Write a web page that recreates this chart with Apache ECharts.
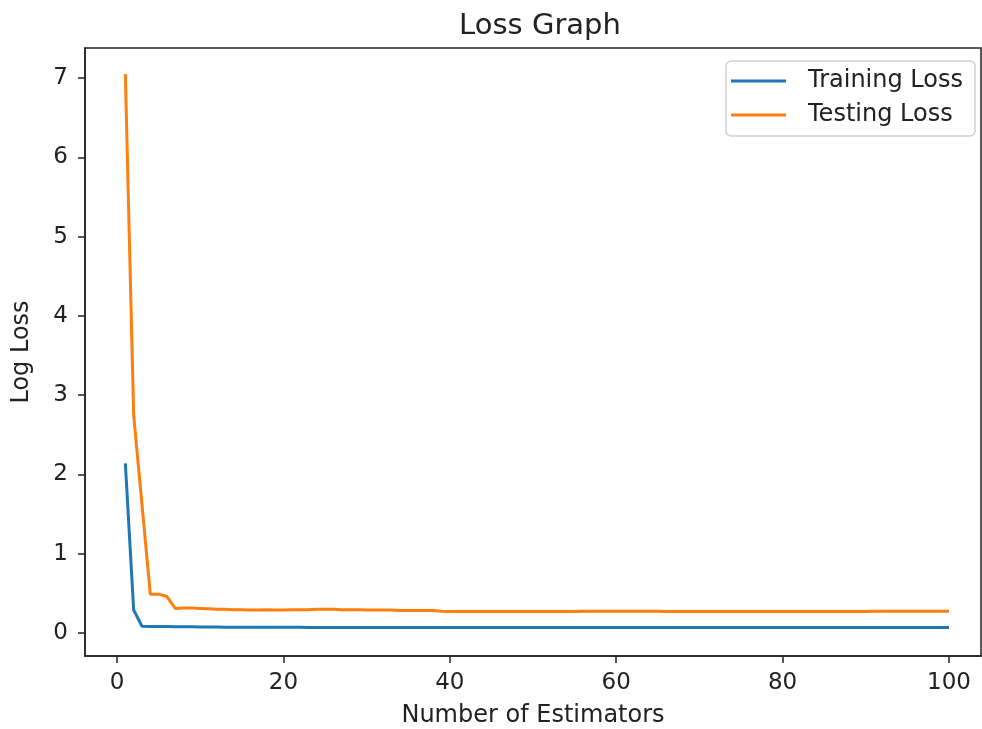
<!DOCTYPE html>
<html>
<head>
<meta charset="utf-8">
<title>Loss Graph</title>
<script src="https://cdn.jsdelivr.net/npm/echarts@6/dist/echarts.min.js"></script>
<style>
  html, body { margin: 0; padding: 0; background: #fff; }
  #chart { width: 982px; height: 729px; }
</style>
</head>
<body>
<div id="chart"></div>
<script>
// number of estimators (x)
var estimators = [
  1, 2, 3, 4, 5, 6, 7, 8, 9, 10, 11, 12, 13, 14, 15, 16, 17, 18, 19, 20,
  21, 22, 23, 24, 25, 26, 27, 28, 29, 30, 31, 32, 33, 34, 35, 36, 37, 38, 39, 40,
  41, 42, 43, 44, 45, 46, 47, 48, 49, 50, 51, 52, 53, 54, 55, 56, 57, 58, 59, 60,
  61, 62, 63, 64, 65, 66, 67, 68, 69, 70, 71, 72, 73, 74, 75, 76, 77, 78, 79, 80,
  81, 82, 83, 84, 85, 86, 87, 88, 89, 90, 91, 92, 93, 94, 95, 96, 97, 98, 99, 100
];

// training loss
var trainLoss = [
  2.14, 0.29, 0.085, 0.083, 0.082, 0.081, 0.080, 0.079, 0.078, 0.077,
  0.076, 0.075, 0.074, 0.073, 0.073, 0.073, 0.072, 0.072, 0.072, 0.072,
  0.072, 0.072, 0.071, 0.071, 0.071, 0.071, 0.071, 0.071, 0.071, 0.071,
  0.070, 0.070, 0.070, 0.070, 0.070, 0.070, 0.070, 0.070, 0.070, 0.070,
  0.070, 0.070, 0.070, 0.070, 0.070, 0.070, 0.070, 0.070, 0.070, 0.070,
  0.070, 0.070, 0.070, 0.070, 0.070, 0.070, 0.070, 0.070, 0.070, 0.070,
  0.070, 0.069, 0.069, 0.069, 0.069, 0.069, 0.069, 0.069, 0.069, 0.069,
  0.069, 0.069, 0.069, 0.069, 0.069, 0.069, 0.069, 0.069, 0.069, 0.069,
  0.069, 0.069, 0.069, 0.068, 0.068, 0.068, 0.068, 0.068, 0.068, 0.068,
  0.068, 0.068, 0.068, 0.068, 0.068, 0.068, 0.068, 0.068, 0.068, 0.068
];

// testing loss
var testLoss = [
  7.05, 2.75, 1.62, 0.49, 0.49, 0.46, 0.31, 0.315, 0.315, 0.31,
  0.305, 0.30, 0.30, 0.295, 0.295, 0.29, 0.29, 0.295, 0.29, 0.29,
  0.295, 0.295, 0.295, 0.30, 0.30, 0.30, 0.295, 0.295, 0.295, 0.29,
  0.29, 0.29, 0.29, 0.285, 0.285, 0.285, 0.285, 0.285, 0.275, 0.27,
  0.27, 0.27, 0.27, 0.27, 0.27, 0.27, 0.27, 0.27, 0.27, 0.27,
  0.27, 0.272, 0.272, 0.272, 0.272, 0.275, 0.275, 0.275, 0.275, 0.275,
  0.275, 0.275, 0.275, 0.275, 0.275, 0.272, 0.272, 0.272, 0.272, 0.272,
  0.272, 0.272, 0.272, 0.272, 0.272, 0.272, 0.272, 0.272, 0.272, 0.272,
  0.272, 0.272, 0.272, 0.272, 0.272, 0.272, 0.272, 0.272, 0.272, 0.272,
  0.275, 0.275, 0.275, 0.275, 0.275, 0.275, 0.275, 0.275, 0.275, 0.275
];

var xTicks = [0, 20, 40, 60, 80, 100];
var yTicks = [0, 1, 2, 3, 4, 5, 6, 7];

function pairs(xs, ys) {
  return xs.map(function (x, i) { return [x, ys[i]]; });
}

var font = "DejaVu Sans";
var chart = echarts.init(document.getElementById("chart"));

var option = {
  backgroundColor: "#fff",
  animation: false,
  textStyle: { fontFamily: font },
  title: {
    text: "Loss Graph",
    left: 535,
    textAlign: "center",
    top: 7,
    textStyle: { fontFamily: font, fontSize: 29, fontWeight: "normal", color: "#222" }
  },
  legend: {
    orient: "vertical",
    right: 7,
    top: 61,
    padding: [7, 12, 8, 5],
    itemGap: 8,
    itemWidth: 55,
    itemHeight: 3,
    icon: "rect",
    borderColor: "#d0d0d0",
    borderWidth: 1.5,
    borderRadius: 5,
    textStyle: { fontFamily: font, fontSize: 24, lineHeight: 26, color: "#222", padding: [0, 0, 0, 17] },
    data: ["Training Loss", "Testing Loss"]
  },
  grid: {
    left: 85,
    top: 48,
    right: 1,
    bottom: 73,
    outerBoundsMode: "none",
    containLabel: false,
    show: true,
    borderColor: "#222",
    borderWidth: 1.5
  },
  xAxis: {
    type: "value",
    min: -3.85,
    max: 103.85,
    name: "Number of Estimators",
    nameLocation: "middle",
    nameGap: 48,
    nameTextStyle: { fontFamily: font, fontSize: 24, color: "#222" },
    splitLine: { show: false },
    axisLine: { show: true, onZero: false, lineStyle: { color: "#222", width: 1.5 } },
    axisTick: { show: true, customValues: xTicks, length: 7, lineStyle: { color: "#222", width: 1.5 } },
    axisLabel: { customValues: xTicks, fontFamily: font, fontSize: 23, color: "#222", margin: 16 }
  },
  yAxis: {
    type: "value",
    min: -0.29,
    max: 7.38,
    name: "Log Loss",
    nameLocation: "middle",
    nameGap: 51,
    nameTextStyle: { fontFamily: font, fontSize: 24, color: "#222" },
    splitLine: { show: false },
    axisLine: { show: true, onZero: false, lineStyle: { color: "#222", width: 1.5 } },
    axisTick: { show: true, customValues: yTicks, length: 7, lineStyle: { color: "#222", width: 1.5 } },
    axisLabel: { customValues: yTicks, fontFamily: font, fontSize: 23, color: "#222", margin: 17 }
  },
  series: [
    {
      name: "Training Loss",
      type: "line",
      showSymbol: false,
      color: "#1f77b4",
      lineStyle: { width: 3 },
      data: pairs(estimators, trainLoss)
    },
    {
      name: "Testing Loss",
      type: "line",
      showSymbol: false,
      color: "#ff7f0e",
      lineStyle: { width: 3 },
      data: pairs(estimators, testLoss)
    }
  ]
};

chart.setOption(option);
</script>
</body>
</html>
